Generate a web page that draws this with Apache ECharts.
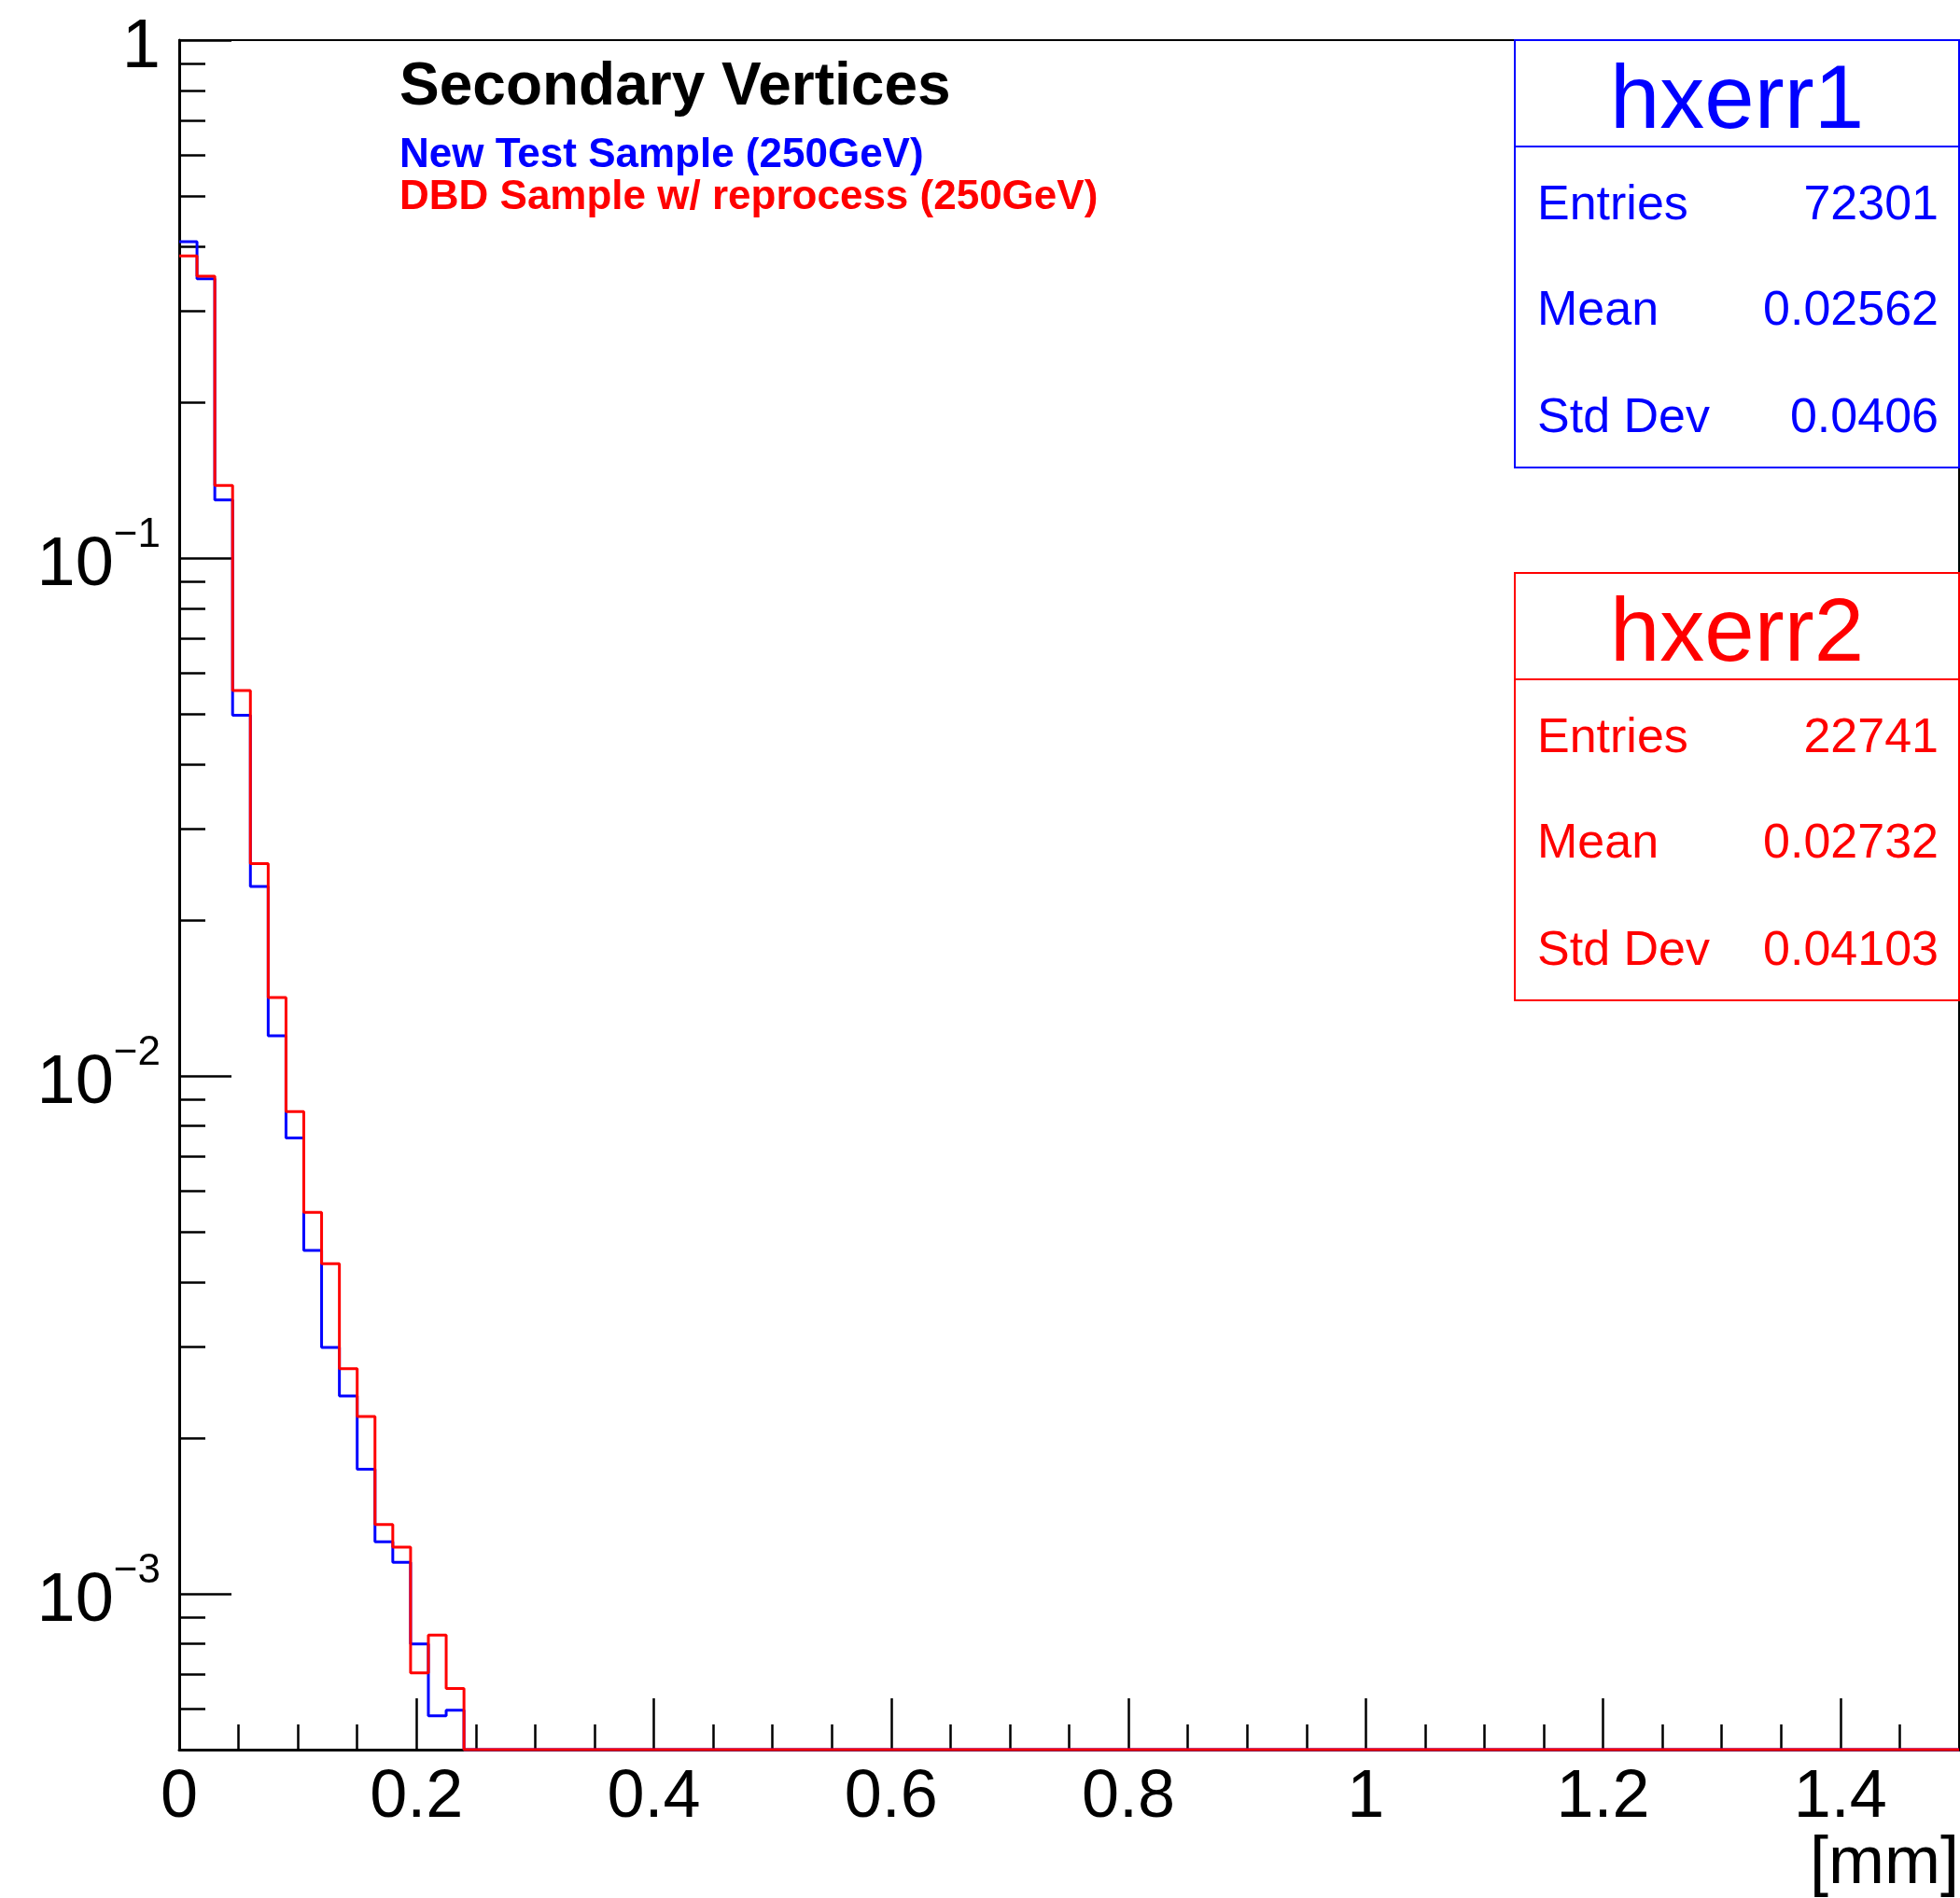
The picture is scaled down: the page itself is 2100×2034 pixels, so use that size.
<!DOCTYPE html>
<html><head><meta charset="utf-8">
<script src="https://cdn.jsdelivr.net/npm/echarts@6/dist/echarts.min.js"></script>
<style>html,body{margin:0;padding:0;background:#fff}#c{width:2100px;height:2034px}</style>
</head><body><div id="c"></div>
<script>
// ---- data ----
const xMin = 0, xMax = 1.5, binWidth = 0.015, nBins = 100;
const yMin = 0.0005, yMax = 1;
// normalised bin contents (bins 17..100 are empty)
const hxerr1 = [0.408, 0.346, 0.1295, 0.0497, 0.0232, 0.01195, 0.00759, 0.00460, 0.00299, 0.00241, 0.00174, 0.00126, 0.00115, 0.000800, 0.000581, 0.000596];
const hxerr2 = [0.383, 0.350, 0.138, 0.0555, 0.0257, 0.01417, 0.00853, 0.00545, 0.00434, 0.00272, 0.00220, 0.00136, 0.00123, 0.000703, 0.000832, 0.000656];
const xMajorTicks = [0, 0.2, 0.4, 0.6, 0.8, 1.0, 1.2, 1.4];
const xMinorTicks = [0.05,0.1,0.15,0.25,0.3,0.35,0.45,0.5,0.55,0.65,0.7,0.75,0.85,0.9,0.95,1.05,1.1,1.15,1.25,1.3,1.35,1.45];
const yMajorTicks = [0.001, 0.01, 0.1, 1];
const yMinorTicks = [0.0006,0.0007,0.0008,0.0009,0.002,0.003,0.004,0.005,0.006,0.007,0.008,0.009,0.02,0.03,0.04,0.05,0.06,0.07,0.08,0.09,0.2,0.3,0.4,0.5,0.6,0.7,0.8,0.9];
const statLabels = ['Entries', 'Mean', 'Std Dev'];
const stats1 = ['72301', '0.02562', '0.0406'];
const stats2 = ['22741', '0.02732', '0.04103'];
const titleText = 'Secondary Vertices';
const legendBlue = 'New Test Sample (250GeV)';
const legendRed = 'DBD Sample w/ reprocess (250GeV)';

const FONT = 'Liberation Sans';
const BLUE = '#0000ff', RED = '#ff0000';

function stepData(vals) {
  const d = [];
  for (let i = 0; i < nBins; i++) {
    const v = i < vals.length ? vals[i] : 0;
    d.push([+(xMin + i * binWidth).toFixed(4), Math.max(v, yMin)]);
  }
  d.push([xMax, d[d.length - 1][1]]);
  return d;
}

function statBox(top, color, name, values) {
  const left = 1623, width = 476, height = 458, header = 114;
  const els = [
    {type:'rect', shape:{x:left, y:top, width:width, height:height}, style:{fill:'#fff', stroke:color, lineWidth:2}, z:10},
    {type:'line', shape:{x1:left, y1:top+header, x2:left+width, y2:top+header}, style:{stroke:color, lineWidth:2}, z:11},
    {type:'text', style:{text:name, x:1861, y:top+68, align:'center', verticalAlign:'middle', fill:color, font:'96px "'+FONT+'"'}, z:11}
  ];
  const rows = [178, 291, 406];
  statLabels.forEach((lab, i) => {
    els.push({type:'text', style:{text:lab, x:1647, y:top+rows[i], align:'left', verticalAlign:'middle', fill:color, font:'52px "'+FONT+'"'}, z:11});
    els.push({type:'text', style:{text:values[i], x:2077, y:top+rows[i], align:'right', verticalAlign:'middle', fill:color, font:'52px "'+FONT+'"'}, z:11});
  });
  return els;
}

const chart = echarts.init(document.getElementById('c'), null, {renderer:'canvas'});
const axisLine = {show:true, lineStyle:{color:'#000', width:3}};
const tickStyle = {color:'#000', width:2.5};

const option = {
  backgroundColor:'#fff',
  animation:false,
  grid:{left:192, right:1, top:43, bottom:159, show:true, borderColor:'#000', borderWidth:2, backgroundColor:'transparent'},
  xAxis:[
    {type:'value', min:xMin, max:xMax, position:'bottom',
     axisLine:axisLine,
     axisTick:{show:true, inside:true, length:55, lineStyle:tickStyle, customValues:xMajorTicks},
     axisLabel:{show:true, customValues:xMajorTicks, margin:16, fontSize:72, fontFamily:FONT, color:'#000', lineHeight:72,
       formatter:v => String(+(+v).toFixed(1))},
     splitLine:{show:false}},
    {type:'value', min:xMin, max:xMax, position:'bottom', offset:0,
     axisLine:{show:false},
     axisTick:{show:true, inside:true, length:27, lineStyle:tickStyle, customValues:xMinorTicks},
     axisLabel:{show:false}, splitLine:{show:false}}
  ],
  yAxis:[
    {type:'log', logBase:10, min:yMin, max:yMax, position:'left',
     axisLine:axisLine,
     axisTick:{show:true, inside:true, length:56, lineStyle:tickStyle, customValues:yMajorTicks},
     axisLabel:{show:true, customValues:yMajorTicks, margin:20,
       formatter:v => { const e = Math.round(Math.log10(v)); return e === 0 ? '{b|1}' : '{b|10}{s|\u2212' + (-e) + '}'; },
       rich:{
         b:{fontSize:74, fontFamily:FONT, color:'#000', lineHeight:92, verticalAlign:'bottom'},
         s:{fontSize:44, fontFamily:FONT, color:'#000', lineHeight:60, verticalAlign:'top'}
       }},
     splitLine:{show:false}},
    {type:'log', logBase:10, min:yMin, max:yMax, position:'left', offset:0,
     axisLine:{show:false},
     axisTick:{show:true, inside:true, length:28, lineStyle:tickStyle, customValues:yMinorTicks},
     axisLabel:{show:false}, splitLine:{show:false}}
  ],
  series:[
    {name:'hxerr1', type:'line', step:'end', xAxisIndex:0, yAxisIndex:0, data:stepData(hxerr1),
     showSymbol:false, symbol:'none', clip:false, lineStyle:{color:BLUE, width:3}, z:3},
    {name:'hxerr2', type:'line', step:'end', xAxisIndex:0, yAxisIndex:0, data:stepData(hxerr2),
     showSymbol:false, symbol:'none', clip:false, lineStyle:{color:RED, width:3}, z:4}
  ],
  graphic:[
    {type:'text', style:{text:titleText, x:428, y:94, align:'left', verticalAlign:'middle', fill:'#000', font:'bold 64px "'+FONT+'"'}, z:10},
    {type:'text', style:{text:legendBlue, x:428, y:167, align:'left', verticalAlign:'middle', fill:BLUE, font:'bold 44px "'+FONT+'"'}, z:10},
    {type:'text', style:{text:legendRed, x:428, y:212, align:'left', verticalAlign:'middle', fill:RED, font:'bold 44px "'+FONT+'"'}, z:10},
    ...statBox(43, BLUE, 'hxerr1', stats1),
    ...statBox(614, RED, 'hxerr2', stats2),
    {type:'text', style:{text:'[mm]', x:2099, y:1998, align:'right', verticalAlign:'middle', fill:'#000', font:'72px "'+FONT+'"'}, z:10}
  ]
};
chart.setOption(option);
</script>
</body></html>
